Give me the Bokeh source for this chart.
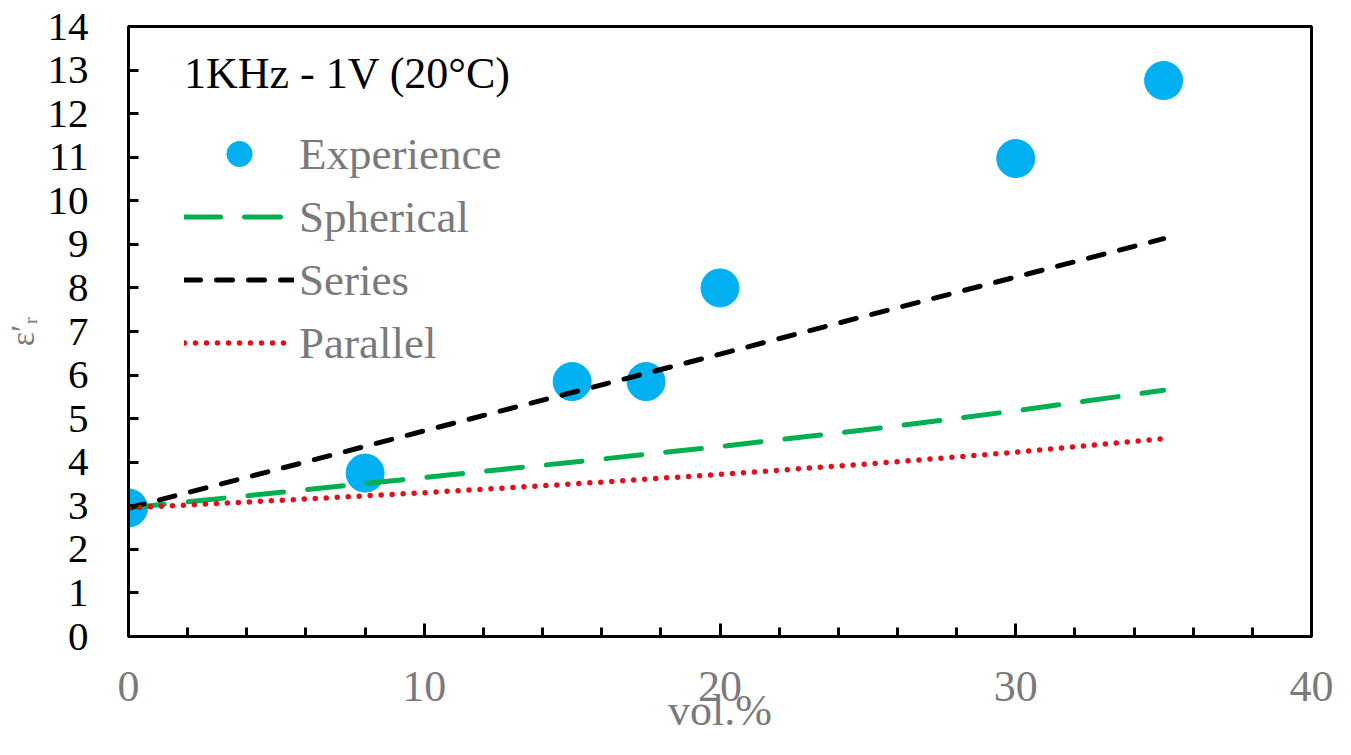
from bokeh.plotting import figure
from bokeh.models import Legend, LegendItem, FixedTicker, Range1d, ColumnDataSource
from bokeh.embed import file_html
from bokeh.resources import INLINE

# ---- data ----
vol_exp = [0, 8, 15, 17.5, 20, 30, 35]
eps_exp = [2.95, 3.75, 5.85, 5.85, 8.0, 10.97, 12.76]

vol_model = [0, 5, 10, 15, 20, 25, 30, 35]
eps_spherical = [2.95, 3.30, 3.65, 4.00, 4.36, 4.75, 5.18, 5.65]
eps_series = [2.95, 3.83, 4.72, 5.60, 6.48, 7.37, 8.25, 9.13]
eps_parallel = [2.95, 3.12, 3.30, 3.50, 3.72, 3.96, 4.23, 4.54]

x_major_ticks = [0, 10, 20, 30, 40]
x_minor_ticks = [2, 4, 6, 8, 12, 14, 16, 18, 22, 24, 26, 28, 32, 34, 36, 38]
y_ticks = [0, 1, 2, 3, 4, 5, 6, 7, 8, 9, 10, 11, 12, 13, 14]

title_text = "1KHz - 1V (20°C)"
x_label = "vol.%"
y_label = "ε′ᵣ"

FONT = "Liberation Serif"
GRAY = "#7a7a7a"
BLUE = "#00B0F0"
GREEN = "#00B050"
RED = "#E0101C"

p = figure(
    frame_width=1183, frame_height=610,
    min_border_left=128, min_border_top=26, min_border_right=24, min_border_bottom=103,
    x_range=Range1d(0, 40), y_range=Range1d(0, 14),
    output_backend="svg", toolbar_location=None,
    background_fill_color="white", border_fill_color="white",
)
p.grid.visible = False
p.outline_line_color = "black"
p.outline_line_width = 3

exp_src = ColumnDataSource(dict(x=vol_exp, y=eps_exp))
mod_src = ColumnDataSource(dict(x=vol_model, sph=eps_spherical, ser=eps_series, par=eps_parallel))

r_exp = p.scatter("x", "y", source=exp_src, size=38, marker="circle",
                  fill_color=BLUE, line_color=BLUE)

r_sph = p.line("x", "sph", source=mod_src, line_color=GREEN, line_width=5,
               line_dash="36 24", line_cap="round")
r_ser = p.line("x", "ser", source=mod_src, line_color="black", line_width=5,
               line_dash="16 16", line_cap="round")
r_par = p.line("x", "par", source=mod_src, line_color=RED, line_width=5.5,
               line_dash="0 11", line_cap="round")

# axes
xa = p.xaxis[0]
xa.ticker = FixedTicker(ticks=x_major_ticks, minor_ticks=x_minor_ticks)
xa.axis_line_width = 3
xa.axis_line_color = "black"
xa.major_tick_in = 13
xa.major_tick_out = 0
xa.minor_tick_in = 9
xa.minor_tick_out = 0
xa.major_tick_line_width = 3
xa.minor_tick_line_width = 3
xa.major_label_text_font = FONT
xa.major_label_text_font_size = "44px"
xa.major_label_text_color = GRAY
xa.major_label_standoff = 35
xa.axis_label = x_label
xa.axis_label_text_font = FONT
xa.axis_label_text_font_size = "44px"
xa.axis_label_text_font_style = "normal"
xa.axis_label_text_color = GRAY
xa.axis_label_standoff = -18

ya = p.yaxis[0]
ya.ticker = FixedTicker(ticks=y_ticks, minor_ticks=[])
ya.axis_line_width = 3
ya.axis_line_color = "black"
ya.major_tick_in = 10
ya.major_tick_out = 0
ya.major_tick_line_width = 3
ya.minor_tick_line_color = None
ya.major_label_text_font = FONT
ya.major_label_text_font_size = "41px"
ya.major_label_text_color = "black"
ya.major_label_standoff = 40
ya.axis_label = y_label
ya.axis_label_text_font = FONT
ya.axis_label_text_font_size = "34px"
ya.axis_label_text_font_style = "normal"
ya.axis_label_text_color = GRAY
ya.axis_label_standoff = 4

legend = Legend(
    items=[
        LegendItem(label="Experience", renderers=[r_exp]),
        LegendItem(label="Spherical", renderers=[r_sph]),
        LegendItem(label="Series", renderers=[r_ser]),
        LegendItem(label="Parallel", renderers=[r_par]),
    ],
    location=(56, 262),
    title=title_text,
    title_text_font=FONT, title_text_font_size="44px", title_text_color="black",
    title_text_font_style="normal", title_standoff=23,
    label_text_font=FONT, label_text_font_size="45px", label_text_color=GRAY,
    glyph_width=110, glyph_height=63, label_height=63, label_standoff=5,
    spacing=0, padding=0, margin=0,
    background_fill_alpha=0, border_line_alpha=0,
)
p.add_layout(legend)

open("out.html", "w").write(file_html(p, INLINE))
